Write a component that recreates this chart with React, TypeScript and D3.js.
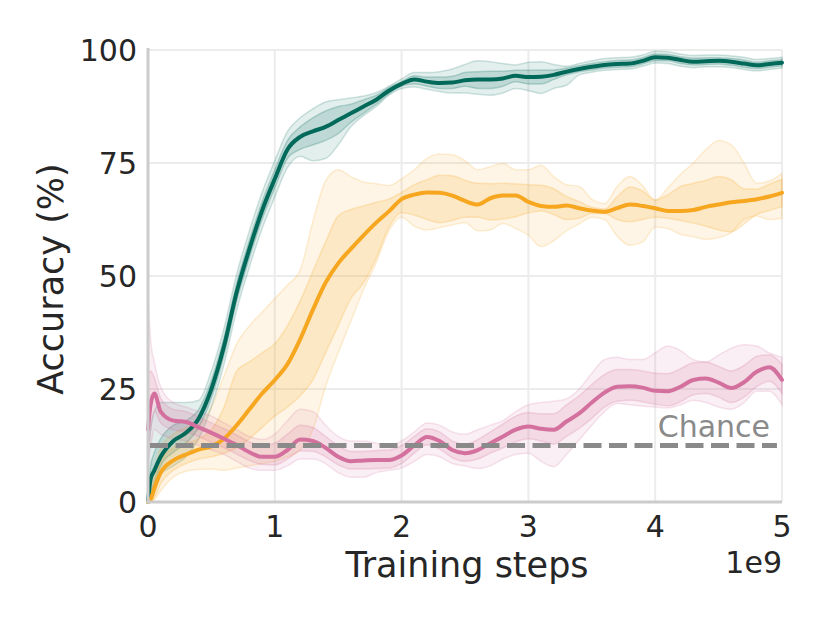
import React from 'react';
import * as d3 from 'd3';

// training steps, in units of 1e9
const steps = [0, 0.02, 0.05, 0.1, 0.2, 0.3, 0.4, 0.5, 0.6, 0.7, 0.8, 0.9, 1.0,
  1.1, 1.2, 1.3, 1.4, 1.5, 1.6, 1.7, 1.8, 1.9, 2.0,
  2.1, 2.2, 2.3, 2.4, 2.5, 2.6, 2.7, 2.8, 2.9, 3.0,
  3.1, 3.2, 3.3, 3.4, 3.5, 3.6, 3.7, 3.8, 3.9, 4.0,
  4.1, 4.2, 4.3, 4.4, 4.5, 4.6, 4.7, 4.8, 4.9, 5.0];

const tealMean = [0, 5, 7, 10, 13.5, 15.3, 18.5, 25, 34.5, 46.5, 56, 64.5, 71.5,
  78, 80.8, 82, 83, 84.5, 86, 87.5, 89, 91, 92.5,
  93.5, 93, 92.7, 92.8, 93.3, 93.5, 93.5, 93.7, 94.3, 94,
  94.1, 94.5, 95.2, 95.8, 96.3, 96.7, 96.9, 97, 97.6, 98.4,
  98.3, 97.8, 97.4, 97.5, 97.6, 97.4, 97, 96.6, 96.9, 97.2];
const tealInnerLo = [0, 2, 4, 8, 11, 13, 16.5, 23, 32.5, 44.5, 54, 62.5, 69.5,
  76, 78, 79, 80, 81.5, 84, 86, 88, 90.3, 92,
  92.5, 92, 91.5, 91.5, 92, 91.5, 91.5, 92, 93, 92.5,
  92.5, 93.5, 94.5, 95.2, 95.6, 96, 96.2, 96.3, 96.9, 97.6,
  97.6, 97, 96.7, 96.8, 96.9, 96.6, 96.2, 95.9, 96.2, 96.5];
const tealInnerHi = [3, 8, 11, 14, 17, 18, 20.5, 27, 36.5, 48.5, 58, 66.5, 73.5,
  80, 83, 85, 86.5, 87.5, 88, 89, 90, 91.7, 93,
  94.3, 94, 94, 94.2, 95, 95.2, 95.3, 95.3, 95.5, 95.5,
  95.6, 95.6, 96, 96.5, 97, 97.4, 97.7, 97.8, 98.3, 99.1,
  99, 98.5, 98.2, 98.3, 98.3, 98.1, 97.8, 97.3, 97.6, 97.9];
const tealOuterLo = [0, 1, 3, 6, 8, 10, 14, 21, 30.5, 42.5, 52, 60.5, 67.5,
  74, 76.5, 75.5, 76, 79, 83, 85.5, 87.5, 90, 91.5,
  91.8, 91.3, 90.8, 90.5, 90.5, 90.2, 90, 90.5, 91.5, 91,
  90.4, 91.5, 92.2, 94.5, 95.1, 95.5, 95.7, 95.8, 96.4, 97.1,
  97, 96.4, 96.1, 96.3, 96.3, 96.1, 95.7, 95.4, 95.7, 96];
const tealOuterHi = [10, 16, 20, 22, 22, 22, 22.5, 29, 38.5, 50.5, 60, 68.5, 75.5,
  82, 85, 87, 88.5, 89, 89.4, 89.8, 90.6, 92, 93.6,
  95, 95, 95.2, 95.8, 96.8, 97.6, 97.4, 97, 96.7, 97.3,
  97.4, 96.8, 96.4, 97, 97.6, 98.1, 98.3, 98.4, 98.9, 99.7,
  99.6, 99.1, 98.8, 98.9, 98.9, 98.7, 98.4, 97.9, 98.1, 98.4];

const orangeMean = [0, 0.5, 3, 6.5, 9.2, 10.5, 11.6, 12.3, 14, 17, 20.5, 24, 27,
  30.5, 36, 42.5, 48.5, 52.8, 56, 59, 61.8, 64.3, 67,
  68, 68.5, 68.4, 67.8, 66.6, 65.8, 67.2, 67.8, 67.8, 66.4,
  65.5, 65.3, 65.6, 65, 64.5, 64.2, 65, 65.8, 65.5, 65,
  64.4, 64.4, 64.6, 65.3, 65.8, 66.3, 66.6, 67, 67.6, 68.4];
const orangeInnerLo = [0, 0, 1, 4, 7, 8.5, 9.5, 10, 10.8, 12, 14, 16.5, 19,
  21, 23.5, 27, 33, 39, 45, 48.5, 54, 60.8, 64,
  63.5, 62.5, 61.8, 62.3, 63, 63, 62.4, 62.6, 63.1, 64,
  64.4, 63.6, 62.5, 62.8, 63.8, 63.8, 62.5, 62, 62.5, 63,
  62.8, 62.3, 61.7, 61, 60.2, 59.8, 61.5, 63.6, 64.5, 65.3];
const orangeInnerHi = [0.5, 2, 5, 9, 12, 13, 14, 16, 21, 29, 31, 33, 35,
  39, 44.5, 51, 57.5, 63.3, 64.7, 65.5, 66.3, 67, 68.5,
  70.2, 71.3, 72.3, 72.2, 71.2, 70.5, 70.4, 70.5, 70.4, 70.2,
  70.1, 69.3, 67.6, 66.5, 65.2, 64.8, 67.5, 69.7, 68.8, 66.8,
  68, 69.8, 70.5, 71.2, 72, 71.3, 69.3, 69.2, 70.3, 71.4];
const orangeOuterLo = [0, 0, 0.5, 2.5, 5.5, 6.8, 7.2, 7.3, 7, 7.5, 8, 8.5, 9,
  10, 11.5, 16, 25.5, 33, 40, 47, 53, 60, 63,
  61, 60.2, 60.7, 61.3, 61.8, 60, 60.2, 61.6, 60.5, 59,
  56.5, 57.8, 60, 61.5, 63, 62.5, 58.8, 56.8, 57.5, 60.8,
  60.5, 59.2, 58.7, 58.1, 58.5, 59.6, 62.5, 63.3, 62.5, 62.8];
const orangeOuterHi = [0, 3, 7, 12, 15, 16.5, 17, 21, 28, 35, 39, 42, 45,
  48, 51.3, 62, 71, 73.5, 72, 70.8, 70.4, 70, 71.5,
  73.5, 76, 77, 76.8, 75.5, 73.5, 74.2, 74.9, 73.5, 73.5,
  74.5, 72, 70.2, 69.8, 67, 66, 69.8, 72, 70, 66.8,
  69.5, 72.5, 75, 78, 80, 79, 75, 70.5, 71, 72.7];

const pinkMean = [16, 21.5, 24, 20, 18, 17.7, 16.5, 15.3, 14, 12.6, 11, 10, 10,
  11.5, 13.8, 13.5, 12, 10, 9, 9.2, 9.3, 9.3, 10.3,
  12.5, 14.4, 13.5, 11.5, 10.8, 11.5, 13, 14.5, 16, 16.7,
  16.2, 16, 17.8, 19.6, 22, 24.2, 25.5, 25.6, 25.3, 24.6,
  24.5, 25.5, 27, 27.3, 26.4, 25.2, 26.5, 28.8, 29.8, 27];
const pinkInnerLo = [11, 16, 20, 17.5, 16, 15.5, 14.5, 13.2, 12, 10.6, 9.2, 8.3, 8.2,
  9.5, 11.3, 11.2, 10, 8.2, 7.3, 7.3, 7.4, 7.5, 8.5,
  10.8, 12.6, 11.7, 9.8, 9, 9.5, 10.8, 12, 13.3, 14,
  13.5, 12.8, 14.5, 16.3, 18.5, 21, 22.3, 22.5, 22.2, 21.6,
  21.3, 22.2, 23.7, 24, 23.2, 22, 23.2, 25.5, 26.7, 24];
const pinkInnerHi = [28, 29, 27.5, 23, 20.5, 20, 18.8, 17.5, 16.2, 14.8, 13.3, 12.5, 13,
  15, 17, 16.5, 14.5, 12.5, 11.2, 11.2, 11.4, 11.5, 12.5,
  14.5, 16.2, 15.5, 13.5, 12.8, 13.8, 15.5, 17.3, 19, 19.8,
  19.5, 19.5, 21.5, 23.5, 26, 28.2, 29.3, 29.3, 29, 28.5,
  28.4, 29.5, 30.8, 31, 30, 29, 30.2, 32.2, 32.6, 30.5];
const pinkOuterLo = [8, 12, 16, 15, 14, 13.5, 12.5, 11.5, 10.5, 9, 7.5, 7, 7,
  8, 9.5, 9.5, 8.5, 6.5, 5.5, 5.5, 6.5, 7, 7.5,
  9, 10.5, 10, 8.5, 8, 7.4, 8, 9.5, 10.5, 10.8,
  9, 7.8, 10.5, 13.7, 17, 20, 21.8, 21.5, 21.2, 21,
  20.8, 21.5, 22.5, 22, 21, 20.5, 22, 24.5, 24.5, 21.5];
const pinkOuterHi = [45, 36, 31, 25.5, 22, 21, 20, 19, 17.5, 16, 14.5, 13.8, 15,
  18, 20.5, 20, 17, 14.5, 13.5, 13.5, 13, 12.5, 13.5,
  15.5, 17.5, 17, 15.5, 15, 16, 17, 18, 20, 21.5,
  22, 22.3, 22.8, 25, 28.5, 31.5, 32, 31.5, 31.5, 33,
  34.5, 33.5, 31.5, 31, 32.5, 34, 34.8, 34.5, 33, 32];

const chanceLevel = 12.5;
const xTicks = [0, 1, 2, 3, 4, 5];
const yTicks = [0, 25, 50, 75, 100];

const series = [
  { name: 'teal', color: '#00695a', mean: tealMean, innerLo: tealInnerLo, innerHi: tealInnerHi, outerLo: tealOuterLo, outerHi: tealOuterHi },
  { name: 'orange', color: '#f6a71f', mean: orangeMean, innerLo: orangeInnerLo, innerHi: orangeInnerHi, outerLo: orangeOuterLo, outerHi: orangeOuterHi },
  { name: 'pink', color: '#d4709e', mean: pinkMean, innerLo: pinkInnerLo, innerHi: pinkInnerHi, outerLo: pinkOuterLo, outerHi: pinkOuterHi },
];

const W = 830;
const H = 623;
const FONT = '"DejaVu Sans", sans-serif';

export default function App() {
  const x = d3.scaleLinear().domain([0, 5]).range([148, 782]);
  const y = d3.scaleLinear().domain([0, 100]).range([502, 50]);

  const band = (lo: number[], hi: number[]) =>
    d3.area<number>()
      .x((_, i) => x(steps[i]))
      .y0((_, i) => y(lo[i]))
      .y1((_, i) => y(hi[i]))
      .curve(d3.curveMonotoneX)(steps) || '';

  const line = (vals: number[]) =>
    d3.line<number>()
      .x((_, i) => x(steps[i]))
      .y((_, i) => y(vals[i]))
      .curve(d3.curveMonotoneX)(steps) || '';

  const [x0, x1] = x.range();
  const [y0, y1] = y.range();

  return (
    <svg width={W} height={H} style={{ position: 'absolute', left: 0, top: 0, background: '#fff' }}
      fontFamily={FONT}>
      {/* grid */}
      {xTicks.filter(t => t > 0).map(t => (
        <line key={'gx' + t} x1={x(t)} x2={x(t)} y1={y0} y2={y1} stroke="#ececec" strokeWidth={2} />
      ))}
      {yTicks.filter(t => t > 0).map(t => (
        <line key={'gy' + t} x1={x0} x2={x1} y1={y(t)} y2={y(t)} stroke="#ececec" strokeWidth={2} />
      ))}

      {/* bands */}
      {series.map(s => (
        <g key={'b' + s.name}>
          <path d={band(s.outerLo, s.outerHi)} fill={s.color} fillOpacity={0.11}
            stroke={s.color} strokeOpacity={0.18} strokeWidth={1.5} />
          <path d={band(s.innerLo, s.innerHi)} fill={s.color} fillOpacity={0.16}
            stroke={s.color} strokeOpacity={0.22} strokeWidth={1.5} />
        </g>
      ))}

      {/* mean lines */}
      {series.map(s => (
        <path key={'l' + s.name} d={line(s.mean)} fill="none" stroke={s.color}
          strokeWidth={4} strokeLinejoin="round" strokeLinecap="round" />
      ))}

      {/* chance */}
      <line x1={x(0) + 2} x2={x(4.96)} y1={y(chanceLevel)} y2={y(chanceLevel)}
        stroke="#8a8a8a" strokeWidth={5} strokeDasharray="18 7.5" />
      <text x={770} y={437} textAnchor="end" fontSize={30} fill="#8a8a8a">Chance</text>

      {/* spines */}
      <line x1={x0} x2={x0} y1={y0 + 1.5} y2={y1 - 2} stroke="#cccccc" strokeWidth={3} />
      <line x1={x0 - 1.5} x2={x1} y1={y0} y2={y0} stroke="#cccccc" strokeWidth={3} />

      {/* tick labels */}
      {xTicks.map(t => (
        <text key={'tx' + t} x={x(t)} y={537} textAnchor="middle" fontSize={30} fill="#262626">{t}</text>
      ))}
      {yTicks.map(t => (
        <text key={'ty' + t} x={137} y={y(t)} dy="0.36em" textAnchor="end" fontSize={30} fill="#262626">{t}</text>
      ))}

      <text x={782} y={573} textAnchor="end" fontSize={30} fill="#262626">1e9</text>
      <text x={(x0 + x1) / 2 + 2} y={577} textAnchor="middle" fontSize={35} fill="#262626">Training steps</text>
      <text transform={`translate(63,${(y0 + y1) / 2 + 3}) rotate(-90)`} textAnchor="middle"
        fontSize={35} fill="#262626">Accuracy (%)</text>
    </svg>
  );
}
